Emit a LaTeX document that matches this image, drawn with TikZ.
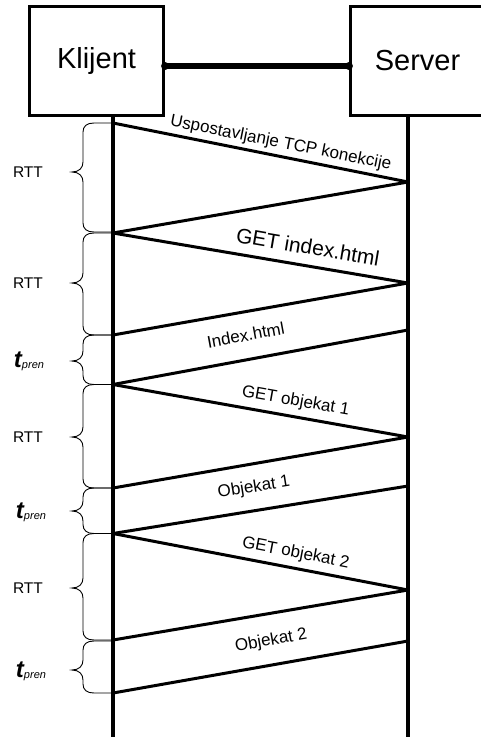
\documentclass[tikz,border=0pt]{standalone}
\usepackage{fontspec}
\setmainfont{Liberation Sans}
\newcommand\tpren{{\fontsize{24}{24}\selectfont\bfseries\itshape t}\raisebox{-1pt}{\fontsize{11}{11}\selectfont\itshape pren}}
\newcommand\tbrace[3]{%
  \draw[brc] (113,#1) -- (94,#1) .. controls (87,#1) and (83,#1+3) .. (83,#1+9)
    -- (83,#2-10) .. controls (83,#2-4) and (79,#2) .. (72,#2)
    .. controls (79,#2) and (83,#2+4) .. (83,#2+10)
    -- (83,#3-9) .. controls (83,#3-3) and (87,#3) .. (94,#3) -- (113,#3);}
\begin{document}
\begin{tikzpicture}[x=1pt,y=-1pt,
  box/.style={draw, line width=2.6pt, minimum width=134.5pt, minimum height=109.5pt, inner sep=0pt, font=\fontsize{29}{29}\selectfont},
  life/.style={line width=3.2pt},
  msg/.style={line width=3pt},
  lbl/.style={font=\fontsize{17}{17}\selectfont, sloped, inner sep=0pt, text depth=0pt},
  brc/.style={line width=0.9pt},
  rtt/.style={font=\fontsize{15.5}{16}\selectfont},
  link/.style={line width=5.5pt, line cap=round},
  linkend/.style={fill, circle, inner sep=0pt, minimum size=8pt}]
\useasboundingbox (0,0) rectangle (481,740);
\node[box] (client) at (96.5,61) {Klijent};
\node[box] (server) at (417.5,61) {Server};
\node[linkend] (e1) at ([yshift=-5pt]client.east) {};
\node[linkend] (e2) at ([yshift=-5pt]server.west) {};
\draw[link] (e1.center) -- (e2.center);
\coordinate (cb) at (113,737);
\coordinate (sb) at (408,737);
\draw[life] (client.south -| cb) -- (cb);
\draw[life] (server.south -| sb) -- (sb);
% points on lifelines
\coordinate (c1) at (113,123);
\coordinate (s1) at (408,182);
\coordinate (c2) at (113,233);
\coordinate (s2) at (408,283);
\coordinate (c3) at (113,335);
\coordinate (s3) at (408,330);
\coordinate (c4) at (113,384.5);
\coordinate (s4) at (408,437);
\coordinate (c5) at (113,488);
\coordinate (s5) at (408,486);
\coordinate (c6) at (113,533.5);
\coordinate (s6) at (408,590);
\coordinate (c7) at (113,640);
\coordinate (s7) at (408,641);
\coordinate (c8) at (113,693);
% messages
\draw[msg] (c1) -- node[lbl, pos=0.56, above=7pt] (l1) {Uspostavljanje TCP konekcije} (s1);
\draw[msg] (s1) -- (c2);
\draw[msg] (c2) -- node[lbl, pos=0.65, above=10pt, font=\fontsize{21}{21}\selectfont] (l2) {GET index.html} (s2);
\draw[msg] (s2) -- (c3);
\draw[msg] (s3) -- node[lbl, pos=0.535, above=17pt] (l3) {Index.html} (c4);
\draw[msg] (c4) -- node[lbl, pos=0.61, above=9.5pt] (l4) {GET objekat 1} (s4);
\draw[msg] (s4) -- (c5);
\draw[msg] (s5) -- node[lbl, pos=0.51, above=17pt] (l5) {Objekat 1} (c6);
\draw[msg] (c6) -- node[lbl, pos=0.61, above=9pt] (l6) {GET objekat 2} (s6);
\draw[msg] (s6) -- (c7);
\draw[msg] (s7) -- node[lbl, pos=0.45, above=18pt] (l7) {Objekat 2} (c8);
% braces
\tbrace{123}{172}{232}
\tbrace{233}{283}{335}
\tbrace{335}{361}{384.5}
\tbrace{384.5}{437}{488}
\tbrace{488}{511}{533.5}
\tbrace{533.5}{588}{640}
\tbrace{641}{670}{693}
% brace labels
\node[rtt] (rtt1) at (28,172) {RTT};
\node[rtt] (rtt2) at (28,283) {RTT};
\node[rtt] (rtt3) at (28,437) {RTT};
\node[rtt] (rtt4) at (28,588) {RTT};
\node[anchor=base, inner sep=0pt] (tp1) at (29,367) {\tpren};
\node[anchor=base, inner sep=0pt] (tp2) at (31,518) {\tpren};
\node[anchor=base, inner sep=0pt] (tp3) at (31,677) {\tpren};
\end{tikzpicture}
\end{document}
